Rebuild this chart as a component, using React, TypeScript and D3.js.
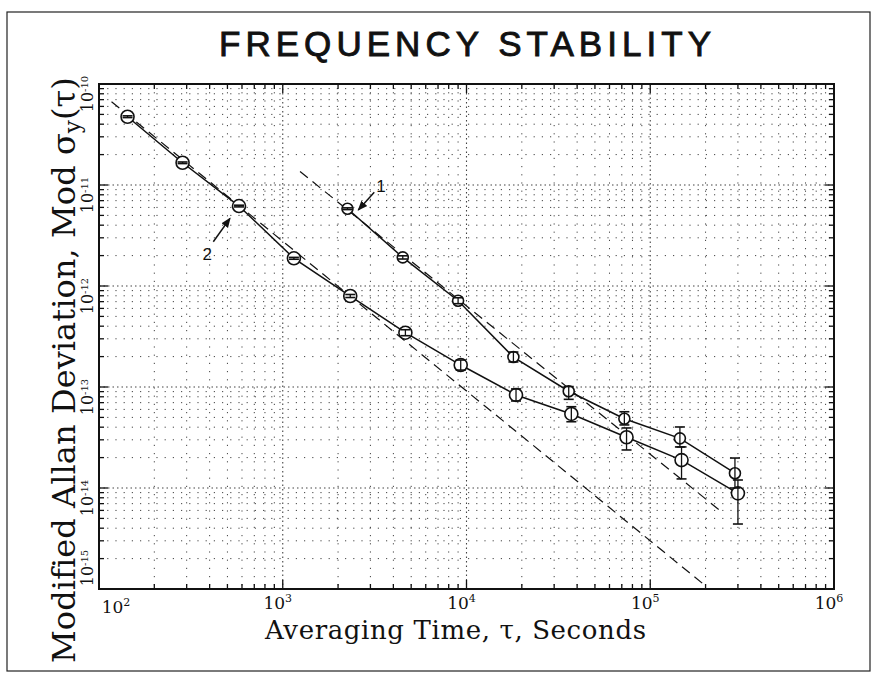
import React, { useRef, useEffect } from "react";
import * as d3 from "d3";

// curve 2: averaging time (s) and Mod sigma_y, with error bar ends
const tau2 = [143, 285, 578, 1150, 2330, 4650, 9300, 18600, 37200, 74300, 148000, 300000];
const sigma2 = [4.74e-11, 1.66e-11, 6.19e-12, 1.88e-12, 7.96e-13, 3.45e-13, 1.65e-13, 8.34e-14, 5.41e-14, 3.18e-14, 1.89e-14, 8.85e-15];
const sigma2Hi = [4.84e-11, 1.69e-11, 6.31e-12, 1.92e-12, 8.24e-13, 3.69e-13, 1.85e-13, 9.57e-14, 6.38e-14, 3.93e-14, 2.55e-14, 1.2e-14];
const sigma2Lo = [4.65e-11, 1.63e-11, 6.07e-12, 1.84e-12, 7.69e-13, 3.22e-13, 1.47e-13, 7.27e-14, 4.53e-14, 2.38e-14, 1.23e-14, 4.4e-15];

// curve 1
const tau1 = [2250, 4500, 9000, 18000, 36000, 72300, 145000, 289000];
const sigma1 = [5.82e-12, 1.92e-12, 7.15e-13, 1.98e-13, 9.08e-14, 4.85e-14, 3.1e-14, 1.4e-14];
const sigma1Hi = [5.94e-12, 1.99e-12, 7.65e-13, 2.22e-13, 1.01e-13, 5.69e-14, 4.02e-14, 1.98e-14];
const sigma1Lo = [5.71e-12, 1.85e-12, 6.68e-13, 1.77e-13, 7.55e-14, 4.21e-14, 2.55e-14, 1.0e-14];

// dashed tau^-1.5 reference lines, [tau, sigma] end points
const refLine2: [number, number][] = [[117, 6.68e-11], [2.03e5, 1.05e-15]];
const refLine1: [number, number][] = [[1242, 1.36e-11], [2.48e5, 5.69e-15]];

// tick labels (powers of ten)
const xExponents = [2, 3, 4, 5, 6];
const yExponents = [-10, -11, -12, -13, -14, -15];

const W = 872;
const H = 680;
const M = { left: 99, right: 834, top: 84, bottom: 589 };

const serif = "'DejaVu Serif', serif";
const sans = "'Liberation Sans', Arial, sans-serif";

const App: React.FC = () => {
  const svgRef = useRef<SVGSVGElement>(null);

  useEffect(() => {
    if (!svgRef.current) return;
    const svg = d3.select(svgRef.current);
    svg.selectAll("*").remove();

    const x = d3.scaleLog().domain([1e2, 1e6]).range([M.left, M.right]);
    const y = d3.scaleLog().domain([1e-15, 1e-10]).range([M.bottom, M.top]);

    const defs = svg.append("defs");
    defs
      .append("marker")
      .attr("id", "arrowHead")
      .attr("viewBox", "0 0 10 10")
      .attr("refX", 9)
      .attr("refY", 5)
      .attr("markerWidth", 10)
      .attr("markerHeight", 10)
      .attr("markerUnits", "userSpaceOnUse")
      .attr("orient", "auto")
      .append("path")
      .attr("d", "M0,1 L10,5 L0,9 Z")
      .attr("fill", "#111");

    // page frame
    svg
      .append("rect")
      .attr("x", 7)
      .attr("y", 12)
      .attr("width", 863)
      .attr("height", 659)
      .attr("fill", "none")
      .attr("stroke", "#222")
      .attr("stroke-width", 1.2);

    // grid values: 1..9 per decade
    const xGrid: { v: number; major: boolean }[] = [];
    for (let d = 2; d <= 6; d++) {
      for (let k = 1; k <= 9; k++) {
        if (d === 6 && k > 1) break;
        xGrid.push({ v: k * Math.pow(10, d), major: k === 1 });
      }
    }
    const yGrid: { v: number; major: boolean }[] = [];
    for (let d = -15; d <= -10; d++) {
      for (let k = 1; k <= 9; k++) {
        if (d === -10 && k > 1) break;
        yGrid.push({ v: k * Math.pow(10, d), major: k === 1 });
      }
    }

    const grid = svg.append("g").attr("stroke", "#444");
    xGrid
      .filter((t) => t.v > 1.01e2 && t.v < 0.99e6)
      .forEach((t) => {
        grid
          .append("line")
          .attr("x1", x(t.v))
          .attr("x2", x(t.v))
          .attr("y1", M.top)
          .attr("y2", M.bottom)
          .attr("stroke-width", t.major ? 1.1 : 1)
          .attr("stroke-dasharray", t.major ? "1.5,3" : "1.2,7");
      });
    yGrid
      .filter((t) => t.v > 1.01e-15 && t.v < 0.99e-10)
      .forEach((t) => {
        grid
          .append("line")
          .attr("x1", M.left)
          .attr("x2", M.right)
          .attr("y1", y(t.v))
          .attr("y2", y(t.v))
          .attr("stroke-width", t.major ? 1.1 : 1)
          .attr("stroke-dasharray", t.major ? "1.5,3" : "1.2,7");
      });

    // inward ticks on all four sides
    const ticks = svg.append("g").attr("stroke", "#111").attr("stroke-width", 1.3);
    xGrid.forEach((t) => {
      const len = t.major ? 9 : 5;
      const px = x(t.v);
      ticks.append("line").attr("x1", px).attr("x2", px).attr("y1", M.bottom).attr("y2", M.bottom - len);
      ticks.append("line").attr("x1", px).attr("x2", px).attr("y1", M.top).attr("y2", M.top + len);
    });
    yGrid.forEach((t) => {
      const len = t.major ? 9 : 5;
      const py = y(t.v);
      ticks.append("line").attr("x1", M.left).attr("x2", M.left + len).attr("y1", py).attr("y2", py);
      ticks.append("line").attr("x1", M.right).attr("x2", M.right - len).attr("y1", py).attr("y2", py);
    });

    // plot frame
    svg
      .append("rect")
      .attr("x", M.left)
      .attr("y", M.top)
      .attr("width", M.right - M.left)
      .attr("height", M.bottom - M.top)
      .attr("fill", "none")
      .attr("stroke", "#111")
      .attr("stroke-width", 2);

    const line = d3
      .line<[number, number]>()
      .x((d) => x(d[0]))
      .y((d) => y(d[1]));

    // dashed reference lines
    [refLine2, refLine1].forEach((pts) => {
      svg
        .append("path")
        .datum(pts)
        .attr("d", line)
        .attr("fill", "none")
        .attr("stroke", "#111")
        .attr("stroke-width", 1.2)
        .attr("stroke-dasharray", "10,6");
    });

    const series = [
      { tau: tau2, s: sigma2, hi: sigma2Hi, lo: sigma2Lo, r: 6.5 },
      { tau: tau1, s: sigma1, hi: sigma1Hi, lo: sigma1Lo, r: 5.5 },
    ];

    series.forEach((ser) => {
      const pts = ser.tau.map((t, i) => [t, ser.s[i]] as [number, number]);
      svg
        .append("path")
        .datum(pts)
        .attr("d", line)
        .attr("fill", "none")
        .attr("stroke", "#111")
        .attr("stroke-width", 1.5);

      const g = svg.append("g");
      ser.tau.forEach((t, i) => {
        const cx = x(t);
        g.append("circle")
          .attr("cx", cx)
          .attr("cy", y(ser.s[i]))
          .attr("r", ser.r)
          .attr("fill", "#fff")
          .attr("stroke", "#111")
          .attr("stroke-width", 1.6);
        const yh = y(ser.hi[i]);
        const yl = y(ser.lo[i]);
        g.append("line")
          .attr("x1", cx)
          .attr("x2", cx)
          .attr("y1", yh)
          .attr("y2", yl)
          .attr("stroke", "#111")
          .attr("stroke-width", 1.3);
        [yh, yl].forEach((yy) => {
          g.append("line")
            .attr("x1", cx - 5)
            .attr("x2", cx + 5)
            .attr("y1", yy)
            .attr("y2", yy)
            .attr("stroke", "#111")
            .attr("stroke-width", 1.6);
        });
      });
    });

    // curve labels with arrows
    const notes = [
      { label: "1", px: x(tau1[0]), py: y(sigma1[0]), tail: [26.8, -16.4], tip: [10.8, 1.3], text: [33.5, -16.5] },
      { label: "2", px: x(tau2[2]), py: y(sigma2[2]), tail: [-25.7, 35.7], tip: [-9, 12.3], text: [-31.7, 53.5] },
    ];
    notes.forEach((n) => {
      svg
        .append("line")
        .attr("x1", n.px + n.tail[0])
        .attr("y1", n.py + n.tail[1])
        .attr("x2", n.px + n.tip[0])
        .attr("y2", n.py + n.tip[1])
        .attr("stroke", "#111")
        .attr("stroke-width", 1.5)
        .attr("marker-end", "url(#arrowHead)");
      svg
        .append("text")
        .attr("x", n.px + n.text[0])
        .attr("y", n.py + n.text[1])
        .attr("text-anchor", "middle")
        .attr("font-family", sans)
        .attr("font-size", 17)
        .attr("fill", "#111")
        .text(n.label);
    });

    // x tick labels
    xExponents.forEach((e, i) => {
      const px = x(Math.pow(10, e)) + (i === 0 ? 17 : -5);
      const t = svg
        .append("text")
        .attr("x", px)
        .attr("y", M.bottom + (i === 0 ? 24 : 20))
        .attr("text-anchor", "middle")
        .attr("font-family", serif)
        .attr("font-size", 17)
        .attr("fill", "#111");
      t.append("tspan").text("10");
      t.append("tspan").attr("font-size", 11).attr("dy", -7).text(String(e));
    });

    // y tick labels (rotated)
    yExponents.forEach((e) => {
      const py = Math.min(y(Math.pow(10, e)) + 10, M.bottom - 21);
      const t = svg
        .append("text")
        .attr("transform", `translate(93,${py}) rotate(-90)`)
        .attr("text-anchor", "middle")
        .attr("font-family", serif)
        .attr("font-size", 16)
        .attr("fill", "#111");
      t.append("tspan").text("10");
      t.append("tspan").attr("font-size", 10).attr("dy", -5).text(String(e));
    });

    // stretch a text to a given length via letter spacing
    const fit = (sel: d3.Selection<SVGTextElement, unknown, null, undefined>, target: number) => {
      const node = sel.node();
      if (!node) return;
      const len = node.getComputedTextLength();
      const n = (node.textContent || "").length;
      if (n > 1) sel.attr("letter-spacing", (target - len) / (n - 1));
    };

    const title = svg
      .append("text")
      .attr("x", 219)
      .attr("y", 56)
      .attr("font-family", sans)
      .attr("font-size", 35)
      .attr("fill", "#111")
      .attr("stroke", "#111")
      .attr("stroke-width", 0.9)
      .text("FREQUENCY STABILITY");
    fit(title, 492);

    const xTitle = svg
      .append("text")
      .attr("x", 265)
      .attr("y", 639)
      .attr("font-family", serif)
      .attr("font-size", 26)
      .attr("fill", "#111")
      .text("Averaging Time, τ, Seconds");
    fit(xTitle, 381);

    const yTitle = svg
      .append("text")
      .attr("transform", "translate(75,663) rotate(-90)")
      .attr("font-family", serif)
      .attr("font-size", 32)
      .attr("fill", "#111");
    yTitle.append("tspan").text("Modified Allan Deviation, Mod σ");
    yTitle.append("tspan").attr("font-size", 23).attr("dy", 5).text("y");
    yTitle.append("tspan").attr("dy", -5).text("(τ)");
    fit(yTitle, 585);
  }, []);

  return (
    <svg
      ref={svgRef}
      width={W}
      height={H}
      style={{ position: "absolute", left: 0, top: 0, background: "#fff" }}
    />
  );
};

export default App;
